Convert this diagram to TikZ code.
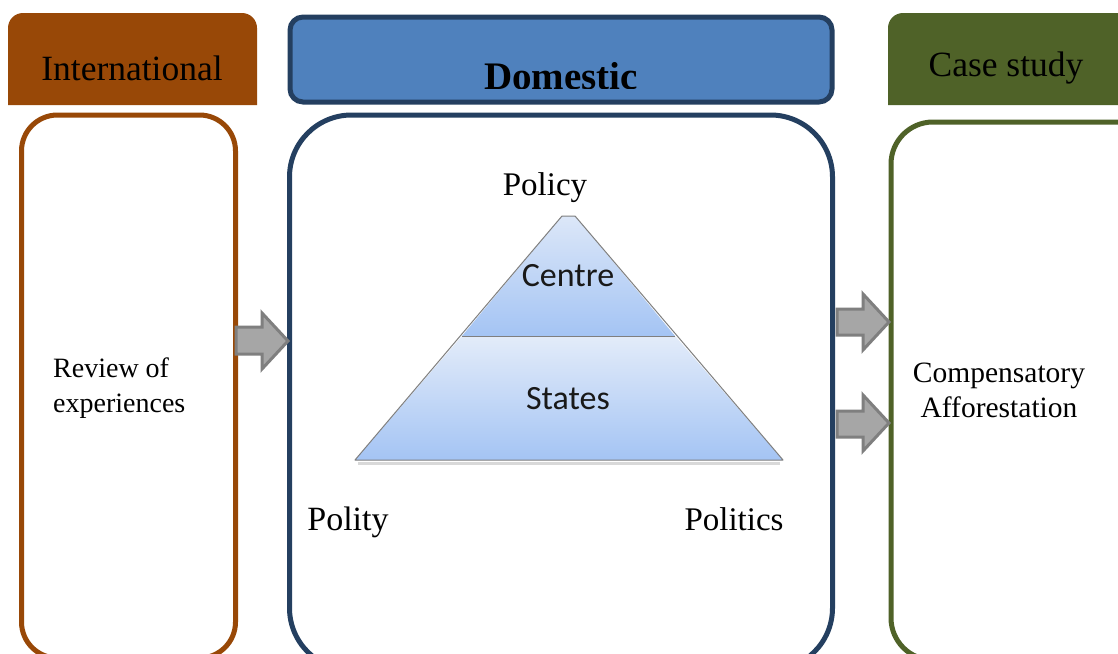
\documentclass[tikz,border=0pt]{standalone}
\usepackage{fontspec}
\setmainfont{Liberation Serif}
\newfontfamily\calib{Carlito}
\definecolor{intl}{HTML}{984807}
\definecolor{domfill}{HTML}{4F81BD}
\definecolor{domline}{HTML}{243F60}
\definecolor{casec}{HTML}{4F6228}
\definecolor{arrfill}{HTML}{A6A6A6}
\definecolor{arrline}{HTML}{7F7F7F}
\definecolor{pyrtop}{HTML}{DCE7F8}
\definecolor{pyrbot}{HTML}{A4C4F4}
\tikzset{
  x=1pt, y=-1pt,
  blockarrow/.style={fill=arrfill, draw=arrline, line width=3pt, line join=miter},
  hdrtext/.style={font=\fontsize{35.5}{40}\selectfont, text=black, inner sep=0},
  bodytext/.style={font=\fontsize{28}{35}\selectfont, inner sep=0, text=black},
  lbltext/.style={font=\fontsize{33}{36}\selectfont, inner sep=0, text=black},
  pyrtext/.style={font=\calib\fontsize{34}{38}\selectfont, inner sep=0, text=black!90},
}
\begin{document}
\begin{tikzpicture}
\clip (0,0) rectangle (1118,653);
\fill[white] (0,0) rectangle (1118,653);
% headers
\fill[intl] (8,105) [rounded corners=15] -- (8,13) -- (257,13) [sharp corners] -- (257,105) -- cycle;
\node[hdrtext] (intl) at (132,68) {International};
\draw[domline, fill=domfill, line width=5pt, rounded corners=13] (290,17) rectangle (832,102);
\begin{scope}
\clip (290,17) rectangle (832,88);
\node[hdrtext, font=\fontsize{39}{44}\selectfont\bfseries, anchor=base] (dom) at (561,89.5) {Domestic};
\end{scope}
\fill[casec] (888,105) [rounded corners=15] -- (888,13) -- (1140,13) [sharp corners] -- (1140,105) -- cycle;
\node[hdrtext] (case) at (1006,68) {Case study};
% main boxes
\draw[intl, line width=5pt, rounded corners=36] (21.5,115) rectangle (235.5,658);
\draw[domline, line width=5pt, rounded corners=62] (289.5,115) rectangle (832.5,670);
\draw[casec, line width=5pt, rounded corners=42] (891,122) rectangle (1160,660);
% texts in boxes
\node[bodytext, align=left, anchor=west] (review) at (53,388) {Review of\\experiences};
\node[bodytext, font=\fontsize{29.5}{35}\selectfont, align=center] (comp) at (999,390) {Compensatory\\Afforestation};
% block arrows
\draw[blockarrow] (236,327) -- (262,327) -- (262,313) -- (288,341) -- (262,369) -- (262,354) -- (236,354) -- cycle;
\draw[blockarrow] (837,309) -- (863,309) -- (863,294) -- (889,322) -- (863,350) -- (863,335) -- (837,335) -- cycle;
\draw[blockarrow] (837,411) -- (863,411) -- (863,395) -- (889,423) -- (863,451) -- (863,437) -- (837,437) -- cycle;
% pyramid
\draw[gray!30, line width=3pt] (358,463) -- (780,463);
\shade[top color=pyrtop, bottom color=pyrbot] (562,216) -- (575,216) -- (675,336) -- (462,336) -- cycle;
\shade[top color=pyrtop!80!white, bottom color=pyrbot] (462,336) -- (675,336) -- (783,460) -- (355,460) -- cycle;
\draw[arrline, line width=1pt, line join=round] (562,216) -- (575,216) -- (783,460) -- (355,460) -- cycle;
\draw[arrline, line width=1pt] (462,336) -- (675,336);
\node[pyrtext] (centre) at (568,276) {Centre};
\node[pyrtext] (states) at (568,399) {States};
\node[lbltext] (policy) at (545,188) {Policy};
\node[lbltext, font=\fontsize{34}{38}\selectfont] (polity) at (348,522) {Polity};
\node[lbltext] (politics) at (734,519) {Politics};
\end{tikzpicture}
\end{document}
